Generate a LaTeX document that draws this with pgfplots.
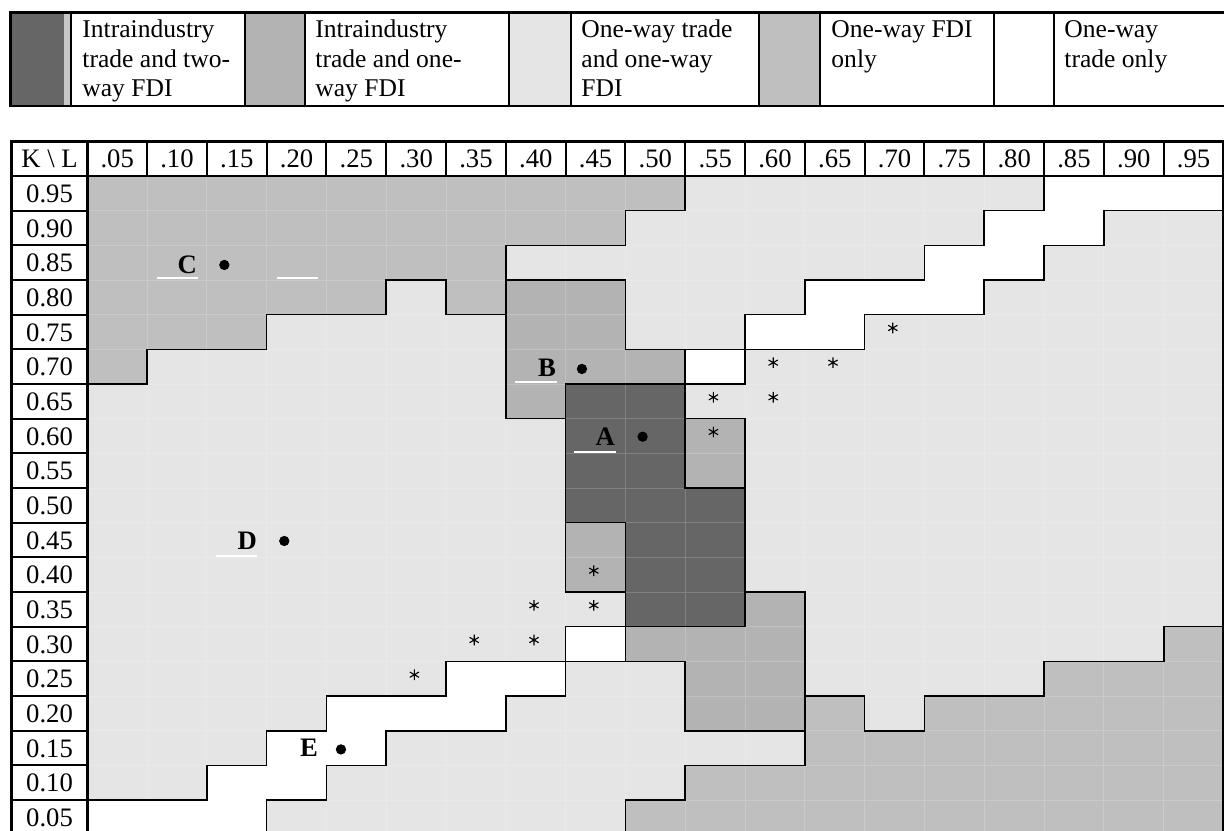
\documentclass[border=0pt]{standalone}
\usepackage{fontspec}
\setmainfont{Liberation Serif}
\usepackage{pgfplots}
\usepackage{pgfplotstable}
\pgfplotsset{compat=1.18}

\definecolor{twoway}{RGB}{102,102,102}
\definecolor{oneiit}{RGB}{179,179,179}
\definecolor{onetr}{RGB}{229,229,229}
\definecolor{onefdi}{RGB}{191,191,191}

\tikzset{
  tab/.style={font=\fontsize{12pt}{14pt}\selectfont, inner sep=0pt, text height=8.2pt, text depth=0pt, anchor=center},
  lett/.style={font=\fontsize{12pt}{14pt}\selectfont\bfseries, inner sep=0pt, anchor=east},
  leg/.style={font=\fontsize{11.5pt}{13pt}\selectfont, inner sep=0pt, anchor=base west},
}

% regime in each (L,K) cell:
% 0 intraindustry trade + two-way FDI, 1 intraindustry trade + one-way FDI,
% 2 one-way trade + one-way FDI, 3 one-way FDI only, 4 one-way trade only
\pgfplotstableread[row sep=\\]{
L K c\\
0.05 0.95 3\\ 0.10 0.95 3\\ 0.15 0.95 3\\ 0.20 0.95 3\\ 0.25 0.95 3\\ 0.30 0.95 3\\ 0.35 0.95 3\\ 0.40 0.95 3\\ 0.45 0.95 3\\ 0.50 0.95 3\\ 0.55 0.95 2\\ 0.60 0.95 2\\ 0.65 0.95 2\\ 0.70 0.95 2\\ 0.75 0.95 2\\ 0.80 0.95 2\\ 0.85 0.95 4\\ 0.90 0.95 4\\ 0.95 0.95 4\\
0.05 0.90 3\\ 0.10 0.90 3\\ 0.15 0.90 3\\ 0.20 0.90 3\\ 0.25 0.90 3\\ 0.30 0.90 3\\ 0.35 0.90 3\\ 0.40 0.90 3\\ 0.45 0.90 3\\ 0.50 0.90 2\\ 0.55 0.90 2\\ 0.60 0.90 2\\ 0.65 0.90 2\\ 0.70 0.90 2\\ 0.75 0.90 2\\ 0.80 0.90 4\\ 0.85 0.90 4\\ 0.90 0.90 2\\ 0.95 0.90 2\\
0.05 0.85 3\\ 0.10 0.85 3\\ 0.15 0.85 3\\ 0.20 0.85 3\\ 0.25 0.85 3\\ 0.30 0.85 3\\ 0.35 0.85 3\\ 0.40 0.85 2\\ 0.45 0.85 2\\ 0.50 0.85 2\\ 0.55 0.85 2\\ 0.60 0.85 2\\ 0.65 0.85 2\\ 0.70 0.85 2\\ 0.75 0.85 4\\ 0.80 0.85 4\\ 0.85 0.85 2\\ 0.90 0.85 2\\ 0.95 0.85 2\\
0.05 0.80 3\\ 0.10 0.80 3\\ 0.15 0.80 3\\ 0.20 0.80 3\\ 0.25 0.80 3\\ 0.30 0.80 2\\ 0.35 0.80 3\\ 0.40 0.80 1\\ 0.45 0.80 1\\ 0.50 0.80 2\\ 0.55 0.80 2\\ 0.60 0.80 2\\ 0.65 0.80 4\\ 0.70 0.80 4\\ 0.75 0.80 4\\ 0.80 0.80 2\\ 0.85 0.80 2\\ 0.90 0.80 2\\ 0.95 0.80 2\\
0.05 0.75 3\\ 0.10 0.75 3\\ 0.15 0.75 3\\ 0.20 0.75 2\\ 0.25 0.75 2\\ 0.30 0.75 2\\ 0.35 0.75 2\\ 0.40 0.75 1\\ 0.45 0.75 1\\ 0.50 0.75 2\\ 0.55 0.75 2\\ 0.60 0.75 4\\ 0.65 0.75 4\\ 0.70 0.75 2\\ 0.75 0.75 2\\ 0.80 0.75 2\\ 0.85 0.75 2\\ 0.90 0.75 2\\ 0.95 0.75 2\\
0.05 0.70 3\\ 0.10 0.70 2\\ 0.15 0.70 2\\ 0.20 0.70 2\\ 0.25 0.70 2\\ 0.30 0.70 2\\ 0.35 0.70 2\\ 0.40 0.70 1\\ 0.45 0.70 1\\ 0.50 0.70 1\\ 0.55 0.70 4\\ 0.60 0.70 2\\ 0.65 0.70 2\\ 0.70 0.70 2\\ 0.75 0.70 2\\ 0.80 0.70 2\\ 0.85 0.70 2\\ 0.90 0.70 2\\ 0.95 0.70 2\\
0.05 0.65 2\\ 0.10 0.65 2\\ 0.15 0.65 2\\ 0.20 0.65 2\\ 0.25 0.65 2\\ 0.30 0.65 2\\ 0.35 0.65 2\\ 0.40 0.65 1\\ 0.45 0.65 0\\ 0.50 0.65 0\\ 0.55 0.65 2\\ 0.60 0.65 2\\ 0.65 0.65 2\\ 0.70 0.65 2\\ 0.75 0.65 2\\ 0.80 0.65 2\\ 0.85 0.65 2\\ 0.90 0.65 2\\ 0.95 0.65 2\\
0.05 0.60 2\\ 0.10 0.60 2\\ 0.15 0.60 2\\ 0.20 0.60 2\\ 0.25 0.60 2\\ 0.30 0.60 2\\ 0.35 0.60 2\\ 0.40 0.60 2\\ 0.45 0.60 0\\ 0.50 0.60 0\\ 0.55 0.60 1\\ 0.60 0.60 2\\ 0.65 0.60 2\\ 0.70 0.60 2\\ 0.75 0.60 2\\ 0.80 0.60 2\\ 0.85 0.60 2\\ 0.90 0.60 2\\ 0.95 0.60 2\\
0.05 0.55 2\\ 0.10 0.55 2\\ 0.15 0.55 2\\ 0.20 0.55 2\\ 0.25 0.55 2\\ 0.30 0.55 2\\ 0.35 0.55 2\\ 0.40 0.55 2\\ 0.45 0.55 0\\ 0.50 0.55 0\\ 0.55 0.55 1\\ 0.60 0.55 2\\ 0.65 0.55 2\\ 0.70 0.55 2\\ 0.75 0.55 2\\ 0.80 0.55 2\\ 0.85 0.55 2\\ 0.90 0.55 2\\ 0.95 0.55 2\\
0.05 0.50 2\\ 0.10 0.50 2\\ 0.15 0.50 2\\ 0.20 0.50 2\\ 0.25 0.50 2\\ 0.30 0.50 2\\ 0.35 0.50 2\\ 0.40 0.50 2\\ 0.45 0.50 0\\ 0.50 0.50 0\\ 0.55 0.50 0\\ 0.60 0.50 2\\ 0.65 0.50 2\\ 0.70 0.50 2\\ 0.75 0.50 2\\ 0.80 0.50 2\\ 0.85 0.50 2\\ 0.90 0.50 2\\ 0.95 0.50 2\\
0.05 0.45 2\\ 0.10 0.45 2\\ 0.15 0.45 2\\ 0.20 0.45 2\\ 0.25 0.45 2\\ 0.30 0.45 2\\ 0.35 0.45 2\\ 0.40 0.45 2\\ 0.45 0.45 1\\ 0.50 0.45 0\\ 0.55 0.45 0\\ 0.60 0.45 2\\ 0.65 0.45 2\\ 0.70 0.45 2\\ 0.75 0.45 2\\ 0.80 0.45 2\\ 0.85 0.45 2\\ 0.90 0.45 2\\ 0.95 0.45 2\\
0.05 0.40 2\\ 0.10 0.40 2\\ 0.15 0.40 2\\ 0.20 0.40 2\\ 0.25 0.40 2\\ 0.30 0.40 2\\ 0.35 0.40 2\\ 0.40 0.40 2\\ 0.45 0.40 1\\ 0.50 0.40 0\\ 0.55 0.40 0\\ 0.60 0.40 2\\ 0.65 0.40 2\\ 0.70 0.40 2\\ 0.75 0.40 2\\ 0.80 0.40 2\\ 0.85 0.40 2\\ 0.90 0.40 2\\ 0.95 0.40 2\\
0.05 0.35 2\\ 0.10 0.35 2\\ 0.15 0.35 2\\ 0.20 0.35 2\\ 0.25 0.35 2\\ 0.30 0.35 2\\ 0.35 0.35 2\\ 0.40 0.35 2\\ 0.45 0.35 2\\ 0.50 0.35 0\\ 0.55 0.35 0\\ 0.60 0.35 1\\ 0.65 0.35 2\\ 0.70 0.35 2\\ 0.75 0.35 2\\ 0.80 0.35 2\\ 0.85 0.35 2\\ 0.90 0.35 2\\ 0.95 0.35 2\\
0.05 0.30 2\\ 0.10 0.30 2\\ 0.15 0.30 2\\ 0.20 0.30 2\\ 0.25 0.30 2\\ 0.30 0.30 2\\ 0.35 0.30 2\\ 0.40 0.30 2\\ 0.45 0.30 4\\ 0.50 0.30 1\\ 0.55 0.30 1\\ 0.60 0.30 1\\ 0.65 0.30 2\\ 0.70 0.30 2\\ 0.75 0.30 2\\ 0.80 0.30 2\\ 0.85 0.30 2\\ 0.90 0.30 2\\ 0.95 0.30 3\\
0.05 0.25 2\\ 0.10 0.25 2\\ 0.15 0.25 2\\ 0.20 0.25 2\\ 0.25 0.25 2\\ 0.30 0.25 2\\ 0.35 0.25 4\\ 0.40 0.25 4\\ 0.45 0.25 2\\ 0.50 0.25 2\\ 0.55 0.25 1\\ 0.60 0.25 1\\ 0.65 0.25 2\\ 0.70 0.25 2\\ 0.75 0.25 2\\ 0.80 0.25 2\\ 0.85 0.25 3\\ 0.90 0.25 3\\ 0.95 0.25 3\\
0.05 0.20 2\\ 0.10 0.20 2\\ 0.15 0.20 2\\ 0.20 0.20 2\\ 0.25 0.20 4\\ 0.30 0.20 4\\ 0.35 0.20 4\\ 0.40 0.20 2\\ 0.45 0.20 2\\ 0.50 0.20 2\\ 0.55 0.20 1\\ 0.60 0.20 1\\ 0.65 0.20 3\\ 0.70 0.20 2\\ 0.75 0.20 3\\ 0.80 0.20 3\\ 0.85 0.20 3\\ 0.90 0.20 3\\ 0.95 0.20 3\\
0.05 0.15 2\\ 0.10 0.15 2\\ 0.15 0.15 2\\ 0.20 0.15 4\\ 0.25 0.15 4\\ 0.30 0.15 2\\ 0.35 0.15 2\\ 0.40 0.15 2\\ 0.45 0.15 2\\ 0.50 0.15 2\\ 0.55 0.15 2\\ 0.60 0.15 2\\ 0.65 0.15 3\\ 0.70 0.15 3\\ 0.75 0.15 3\\ 0.80 0.15 3\\ 0.85 0.15 3\\ 0.90 0.15 3\\ 0.95 0.15 3\\
0.05 0.10 2\\ 0.10 0.10 2\\ 0.15 0.10 4\\ 0.20 0.10 4\\ 0.25 0.10 2\\ 0.30 0.10 2\\ 0.35 0.10 2\\ 0.40 0.10 2\\ 0.45 0.10 2\\ 0.50 0.10 2\\ 0.55 0.10 3\\ 0.60 0.10 3\\ 0.65 0.10 3\\ 0.70 0.10 3\\ 0.75 0.10 3\\ 0.80 0.10 3\\ 0.85 0.10 3\\ 0.90 0.10 3\\ 0.95 0.10 3\\
0.05 0.05 4\\ 0.10 0.05 4\\ 0.15 0.05 4\\ 0.20 0.05 2\\ 0.25 0.05 2\\ 0.30 0.05 2\\ 0.35 0.05 2\\ 0.40 0.05 2\\ 0.45 0.05 2\\ 0.50 0.05 3\\ 0.55 0.05 3\\ 0.60 0.05 3\\ 0.65 0.05 3\\ 0.70 0.05 3\\ 0.75 0.05 3\\ 0.80 0.05 3\\ 0.85 0.05 3\\ 0.90 0.05 3\\ 0.95 0.05 3\\
}\regimes

\begin{document}
\begin{tikzpicture}
\begin{axis}[
  at={(0pt,0pt)}, anchor=south west,
  scale only axis, width=550.8pt, height=373.95pt,
  xmin=-0.04799, xmax=0.97542,
  ymin=0.03036, ymax=1.22883,
  hide axis,
  colormap={regimes}{rgb255=(102,102,102) rgb255=(179,179,179) rgb255=(229,229,229) rgb255=(191,191,191) rgb255=(255,255,255)},
  colormap access=direct,
]

\addplot[matrix plot*, mesh/cols=19, point meta=explicit, draw=none]
  table[x=L, y=K, meta=c] {\regimes};

% faint cell edges
\addplot[white, opacity=0.18, line width=0.4pt, unbounded coords=jump] coordinates {
(0.075,0.02) (0.075,0.975) (nan,nan) (0.125,0.02) (0.125,0.975) (nan,nan)
(0.175,0.02) (0.175,0.975) (nan,nan) (0.225,0.02) (0.225,0.975) (nan,nan)
(0.275,0.02) (0.275,0.975) (nan,nan) (0.325,0.02) (0.325,0.975) (nan,nan)
(0.375,0.02) (0.375,0.975) (nan,nan) (0.425,0.02) (0.425,0.975) (nan,nan)
(0.475,0.02) (0.475,0.975) (nan,nan) (0.525,0.02) (0.525,0.975) (nan,nan)
(0.575,0.02) (0.575,0.975) (nan,nan) (0.625,0.02) (0.625,0.975) (nan,nan)
(0.675,0.02) (0.675,0.975) (nan,nan) (0.725,0.02) (0.725,0.975) (nan,nan)
(0.775,0.02) (0.775,0.975) (nan,nan) (0.825,0.02) (0.825,0.975) (nan,nan)
(0.875,0.02) (0.875,0.975) (nan,nan) (0.925,0.02) (0.925,0.975) (nan,nan)
(0.025,0.075) (0.975,0.075) (nan,nan) (0.025,0.125) (0.975,0.125) (nan,nan)
(0.025,0.175) (0.975,0.175) (nan,nan) (0.025,0.225) (0.975,0.225) (nan,nan)
(0.025,0.275) (0.975,0.275) (nan,nan) (0.025,0.325) (0.975,0.325) (nan,nan)
(0.025,0.375) (0.975,0.375) (nan,nan) (0.025,0.425) (0.975,0.425) (nan,nan)
(0.025,0.475) (0.975,0.475) (nan,nan) (0.025,0.525) (0.975,0.525) (nan,nan)
(0.025,0.575) (0.975,0.575) (nan,nan) (0.025,0.625) (0.975,0.625) (nan,nan)
(0.025,0.675) (0.975,0.675) (nan,nan) (0.025,0.725) (0.975,0.725) (nan,nan)
(0.025,0.775) (0.975,0.775) (nan,nan) (0.025,0.825) (0.975,0.825) (nan,nan)
(0.025,0.875) (0.975,0.875) (nan,nan) (0.025,0.925) (0.975,0.925)
};

% white strokes left under the letters
\addplot[white, line width=0.85pt, unbounded coords=jump] coordinates {
(0.0835,0.8275) (0.1178,0.8275) (nan,nan)
(0.1836,0.8275) (0.2179,0.8275) (nan,nan)
(0.3829,0.6775) (0.4177,0.6775) (nan,nan)
(0.4322,0.5774) (0.4671,0.5774) (nan,nan)
(0.1329,0.4270) (0.1669,0.4270)
};

% borders between regimes: horizontal pieces
\addplot[black, line width=0.72pt, line cap=rect, unbounded coords=jump] coordinates {
(0.475,0.925) (0.525,0.925) (nan,nan) (0.775,0.925) (0.825,0.925) (nan,nan) (0.875,0.925) (0.975,0.925) (nan,nan)
(0.375,0.875) (0.475,0.875) (nan,nan) (0.725,0.875) (0.775,0.875) (nan,nan) (0.825,0.875) (0.875,0.875) (nan,nan)
(0.275,0.825) (0.325,0.825) (nan,nan) (0.375,0.825) (0.475,0.825) (nan,nan) (0.625,0.825) (0.725,0.825) (nan,nan) (0.775,0.825) (0.825,0.825) (nan,nan)
(0.175,0.775) (0.275,0.775) (nan,nan) (0.325,0.775) (0.375,0.775) (nan,nan) (0.575,0.775) (0.625,0.775) (nan,nan) (0.675,0.775) (0.775,0.775) (nan,nan)
(0.075,0.725) (0.175,0.725) (nan,nan) (0.475,0.725) (0.675,0.725) (nan,nan)
(0.025,0.675) (0.075,0.675) (nan,nan) (0.425,0.675) (0.575,0.675) (nan,nan)
(0.375,0.625) (0.425,0.625) (nan,nan) (0.525,0.625) (0.575,0.625) (nan,nan)
(0.525,0.525) (0.575,0.525) (nan,nan)
(0.425,0.475) (0.475,0.475) (nan,nan)
(0.425,0.375) (0.475,0.375) (nan,nan) (0.575,0.375) (0.625,0.375) (nan,nan)
(0.425,0.325) (0.575,0.325) (nan,nan) (0.925,0.325) (0.975,0.325) (nan,nan)
(0.325,0.275) (0.525,0.275) (nan,nan) (0.825,0.275) (0.925,0.275) (nan,nan)
(0.225,0.225) (0.325,0.225) (nan,nan) (0.375,0.225) (0.425,0.225) (nan,nan) (0.625,0.225) (0.675,0.225) (nan,nan) (0.725,0.225) (0.825,0.225) (nan,nan)
(0.175,0.175) (0.225,0.175) (nan,nan) (0.275,0.175) (0.375,0.175) (nan,nan) (0.525,0.175) (0.625,0.175) (nan,nan) (0.675,0.175) (0.725,0.175) (nan,nan)
(0.125,0.125) (0.175,0.125) (nan,nan) (0.225,0.125) (0.275,0.125) (nan,nan) (0.525,0.125) (0.625,0.125) (nan,nan)
(0.025,0.075) (0.125,0.075) (nan,nan) (0.175,0.075) (0.225,0.075) (nan,nan) (0.475,0.075) (0.525,0.075)
};

% borders between regimes: vertical pieces
\addplot[black, line width=0.72pt, line cap=rect, unbounded coords=jump] coordinates {
(0.075,0.675) (0.075,0.725) (nan,nan)
(0.125,0.075) (0.125,0.125) (nan,nan)
(0.175,0.725) (0.175,0.775) (nan,nan) (0.175,0.125) (0.175,0.175) (nan,nan) (0.175,0.02) (0.175,0.075) (nan,nan)
(0.225,0.175) (0.225,0.225) (nan,nan) (0.225,0.075) (0.225,0.125) (nan,nan)
(0.275,0.775) (0.275,0.825) (nan,nan) (0.275,0.125) (0.275,0.175) (nan,nan)
(0.325,0.775) (0.325,0.825) (nan,nan) (0.325,0.225) (0.325,0.275) (nan,nan)
(0.375,0.625) (0.375,0.875) (nan,nan) (0.375,0.175) (0.375,0.225) (nan,nan)
(0.425,0.375) (0.425,0.675) (nan,nan) (0.425,0.225) (0.425,0.325) (nan,nan)
(0.475,0.875) (0.475,0.925) (nan,nan) (0.475,0.725) (0.475,0.825) (nan,nan) (0.475,0.275) (0.475,0.475) (nan,nan) (0.475,0.02) (0.475,0.075) (nan,nan)
(0.525,0.925) (0.525,0.975) (nan,nan) (0.525,0.525) (0.525,0.725) (nan,nan) (0.525,0.175) (0.525,0.275) (nan,nan) (0.525,0.075) (0.525,0.125) (nan,nan)
(0.575,0.675) (0.575,0.775) (nan,nan) (0.575,0.325) (0.575,0.625) (nan,nan)
(0.625,0.775) (0.625,0.825) (nan,nan) (0.625,0.125) (0.625,0.375) (nan,nan)
(0.675,0.725) (0.675,0.775) (nan,nan) (0.675,0.175) (0.675,0.225) (nan,nan)
(0.725,0.825) (0.725,0.875) (nan,nan) (0.725,0.175) (0.725,0.225) (nan,nan)
(0.775,0.875) (0.775,0.925) (nan,nan) (0.775,0.775) (0.775,0.825) (nan,nan)
(0.825,0.925) (0.825,0.975) (nan,nan) (0.825,0.825) (0.825,0.875) (nan,nan) (0.825,0.225) (0.825,0.275) (nan,nan)
(0.875,0.875) (0.875,0.925) (nan,nan)
(0.925,0.275) (0.925,0.325)
};

% table rules: header cells and row-label cells
\addplot[black, line width=0.9pt, unbounded coords=jump] coordinates {
(0.075,0.975) (0.075,1.0245) (nan,nan) (0.125,0.975) (0.125,1.0245) (nan,nan)
(0.175,0.975) (0.175,1.0245) (nan,nan) (0.225,0.975) (0.225,1.0245) (nan,nan)
(0.275,0.975) (0.275,1.0245) (nan,nan) (0.325,0.975) (0.325,1.0245) (nan,nan)
(0.375,0.975) (0.375,1.0245) (nan,nan) (0.425,0.975) (0.425,1.0245) (nan,nan)
(0.475,0.975) (0.475,1.0245) (nan,nan) (0.525,0.975) (0.525,1.0245) (nan,nan)
(0.575,0.975) (0.575,1.0245) (nan,nan) (0.625,0.975) (0.625,1.0245) (nan,nan)
(0.675,0.975) (0.675,1.0245) (nan,nan) (0.725,0.975) (0.725,1.0245) (nan,nan)
(0.775,0.975) (0.775,1.0245) (nan,nan) (0.825,0.975) (0.825,1.0245) (nan,nan)
(0.875,0.975) (0.875,1.0245) (nan,nan) (0.925,0.975) (0.925,1.0245) (nan,nan)
(-0.0382,0.075) (0.025,0.075) (nan,nan) (-0.0382,0.125) (0.025,0.125) (nan,nan)
(-0.0382,0.175) (0.025,0.175) (nan,nan) (-0.0382,0.225) (0.025,0.225) (nan,nan)
(-0.0382,0.275) (0.025,0.275) (nan,nan) (-0.0382,0.325) (0.025,0.325) (nan,nan)
(-0.0382,0.375) (0.025,0.375) (nan,nan) (-0.0382,0.425) (0.025,0.425) (nan,nan)
(-0.0382,0.475) (0.025,0.475) (nan,nan) (-0.0382,0.525) (0.025,0.525) (nan,nan)
(-0.0382,0.575) (0.025,0.575) (nan,nan) (-0.0382,0.625) (0.025,0.625) (nan,nan)
(-0.0382,0.675) (0.025,0.675) (nan,nan) (-0.0382,0.725) (0.025,0.725) (nan,nan)
(-0.0382,0.775) (0.025,0.775) (nan,nan) (-0.0382,0.825) (0.025,0.825) (nan,nan)
(-0.0382,0.875) (0.025,0.875) (nan,nan) (-0.0382,0.925) (0.025,0.925)
};
\addplot[black, line width=1.1pt, unbounded coords=jump] coordinates {
(-0.0382,0.975) (0.975,0.975) (nan,nan)
(0.025,0.02) (0.025,1.0245)
};
\addplot[black, line width=1.35pt, line cap=rect, line join=miter] coordinates {
(-0.0382,0.02) (-0.0382,1.0245) (0.975,1.0245) (0.975,0.02)
};

% points A to E
\addplot[only marks, mark=*, mark size=2.1pt, black] coordinates {
(0.1396,0.8467) (0.4386,0.6967) (0.4893,0.5990) (0.1897,0.4486) (0.2371,0.1480)
};
% asterisks
\addplot[only marks, mark=asterisk, mark size=2.4pt, mark options={line width=0.5pt}, black] coordinates {
(0.6985,0.7558) (0.5985,0.7058) (0.6485,0.7058) (0.5485,0.6558) (0.5985,0.6558)
(0.5485,0.6058) (0.4485,0.4058) (0.3985,0.3558) (0.4485,0.3558) (0.3485,0.3058)
(0.3985,0.3058) (0.2985,0.2558)
};

\node[lett] at (axis cs:0.1170,0.8467) {C};
\node[lett] at (axis cs:0.4171,0.6990) {B};
\node[lett] at (axis cs:0.4665,0.5985) {A};
\node[lett] at (axis cs:0.1671,0.4486) {D};
\node[lett] at (axis cs:0.2181,0.1500) {E};

\node[tab] at (axis cs:-0.0066,0.99966) {K \textbackslash{} L};
\pgfplotsinvokeforeach{05,10,15,20,25,30,35,40,45,50,55,60,65,70,75,80,85,90,95}{
  \node[tab] at (axis cs:0.#1,0.99966) {.#1};
  \node[tab] at (axis cs:-0.0066,0.#1) {0.#1};
}
\end{axis}

% legend strip, in reference pixels
\begin{scope}[shift={(0pt,373.95pt)}, x=0.45pt, y=-0.45pt]
  \fill[twoway] (10.5,12.5) rectangle (64,106);
  \fill[gray!45] (64,12.5) rectangle (71,106);
  \fill[oneiit] (245,12.5) rectangle (305,106);
  \fill[onetr] (509.3,12.5) rectangle (570.5,106);
  \fill[onefdi] (758.7,12.5) rectangle (820,106);
  \draw[line width=0.95pt] (9.5,12.5) -- (1230,12.5);
  \draw[line width=0.95pt] (9.5,106) -- (1230,106);
  \draw[line width=1.05pt] (10.5,11.5) -- (10.5,107);
  \foreach \xx in {71,245,305,509.3,570.5,758.7,820,994.3,1053.7}
    \draw[line width=0.9pt] (\xx,12.5) -- (\xx,106);
  \node[leg] at (82,37.7) {Intraindustry};
  \node[leg] at (82,67.2) {trade and two-};
  \node[leg] at (82,96.8) {way FDI};
  \node[leg] at (315,37.7) {Intraindustry};
  \node[leg] at (315,67.2) {trade and one-};
  \node[leg] at (315,96.8) {way FDI};
  \node[leg] at (581,37.7) {One-way trade};
  \node[leg] at (581,67.2) {and one-way};
  \node[leg] at (581,96.8) {FDI};
  \node[leg] at (831,37.7) {One-way FDI};
  \node[leg] at (831,67.2) {only};
  \node[leg] at (1064,37.7) {One-way};
  \node[leg] at (1064,67.2) {trade only};
\end{scope}

\pgfresetboundingbox
\useasboundingbox (0pt,0pt) rectangle (550.8pt,373.95pt);
\end{tikzpicture}
\end{document}
